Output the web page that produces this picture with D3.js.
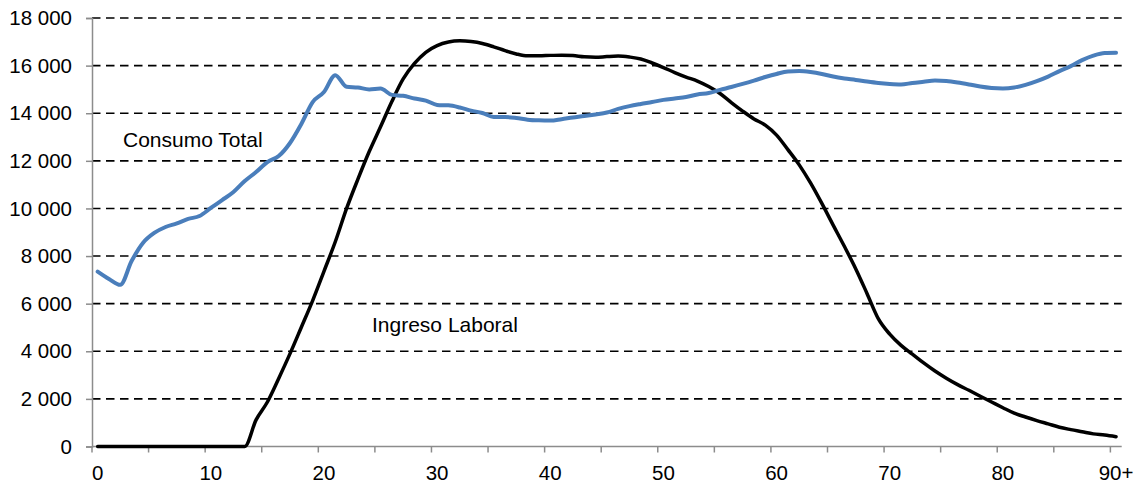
<!DOCTYPE html>
<html>
<head>
<meta charset="utf-8">
<script src="https://cdn.jsdelivr.net/npm/d3@7"></script>
<style>
  body { margin: 0; background: white; }
  text { font-family: Arial, "Liberation Sans", sans-serif; fill: #000; }
</style>
</head>
<body>
<svg id="chart" width="1139" height="485"></svg>
<script>
// Datos
const ages = d3.range(0, 91)

const consumoTotal = [
  7350, 7040, 6790, 7790, 8550, 8970, 9220, 9370, 9560, 9680,
  10020, 10350, 10690, 11150, 11530, 11950, 12200, 12750, 13550, 14470,
  14890, 15600, 15110, 15080, 15000, 15040, 14770, 14730, 14620, 14530,
  14350, 14330, 14240, 14110, 14010, 13840, 13840, 13800, 13730, 13700,
  13690, 13750, 13820, 13880, 13950, 14030, 14180, 14300, 14390, 14470,
  14560, 14620, 14680, 14790, 14850, 14980, 15100, 15230, 15370, 15520,
  15650, 15750, 15770, 15730, 15650, 15540, 15460, 15400, 15330, 15270,
  15230, 15210, 15270, 15320, 15370, 15350, 15290, 15210, 15120, 15060,
  15040, 15080, 15190, 15350, 15540, 15770, 15980, 16230, 16420, 16530,
  16540
]

const ingresoLaboral = [
  0, 0, 0, 0, 0, 0, 0, 0, 0, 0,
  0, 0, 0, 0, 1120, 1870, 2860, 3900, 5010, 6130,
  7360, 8600, 10000, 11230, 12390, 13430, 14490, 15440, 16090, 16560,
  16840, 16990, 17040, 17010, 16930, 16790, 16630, 16490, 16410, 16410,
  16430, 16440, 16420, 16370, 16350, 16380, 16400, 16360, 16280, 16110,
  15920, 15710, 15520, 15350, 15120, 14830, 14450, 14090, 13760, 13500,
  13080, 12470, 11830, 11070, 10210, 9300, 8400, 7460, 6420, 5360,
  4720, 4250, 3880, 3510, 3170, 2870, 2600, 2360, 2110, 1870,
  1630, 1400, 1240, 1090, 950, 810, 710, 620, 530, 480,
  410
]

const yTicks = [0, 2000, 4000, 6000, 8000, 10000, 12000, 14000, 16000, 18000]
const xTickAges = [0, 10, 20, 30, 40, 50, 60, 70, 80, 90]
const xTickLabels = ['0', '10', '20', '30', '40', '50', '60', '70', '80', '90+']

const svg = d3.select('#chart')

const plotLeft = 92
const plotRight = 1121.7
const plotTop = 18
const plotBottom = 446.5

const xScale = d3.scaleBand()
    .domain(ages)
    .range([plotLeft, plotRight])
    .padding(0)

const xCenter = d => xScale(d) + xScale.bandwidth() / 2

const yScale = d3.scaleLinear()
    .domain([0, 18000])
    .range([plotBottom, plotTop])

const fmt = n => d3.format(',')(n).replace(/,/g, ' ')

// Lineas de cuadricula (discontinuas)
svg.append('g')
    .selectAll('line')
    .data(yTicks.filter(d => d > 0))
    .enter().append('line')
        .attr('x1', plotLeft)
        .attr('x2', plotRight)
        .attr('y1', d => yScale(d))
        .attr('y2', d => yScale(d))
        .attr('stroke', '#000')
        .attr('stroke-width', 1.6)
        .attr('stroke-dasharray', '8.5,5.5')

// Eje Y
const yAxis = d3.axisLeft(yScale)
    .tickValues(yTicks)
    .tickSize(6)
    .tickPadding(14)
    .tickFormat(fmt)

const yAxisGroup = svg.append('g')
    .attr('transform', `translate(${plotLeft}, 0)`)
    .call(yAxis)

yAxisGroup.select('.domain').attr('stroke', '#8c8c8c').attr('stroke-width', 1.5)
yAxisGroup.selectAll('.tick line').attr('stroke', '#8c8c8c').attr('stroke-width', 1.5)
yAxisGroup.selectAll('.tick text')
    .attr('font-size', 20.5)
    .attr('font-family', 'Arial, "Liberation Sans", sans-serif')
    .attr('fill', '#000')

// Eje X: marcas cada 5 categorias en los limites
const tickAges = ages.filter(d => d % 5 === 0)
const xAxisGroup = svg.append('g')

xAxisGroup.append('line')
    .attr('x1', plotLeft)
    .attr('x2', plotRight)
    .attr('y1', plotBottom)
    .attr('y2', plotBottom)
    .attr('stroke', '#8c8c8c')
    .attr('stroke-width', 1.5)

xAxisGroup.selectAll('line.tick')
    .data(tickAges)
    .enter().append('line')
        .attr('class', 'tick')
        .attr('x1', d => xScale(d))
        .attr('x2', d => xScale(d))
        .attr('y1', plotBottom)
        .attr('y2', plotBottom + 6)
        .attr('stroke', '#8c8c8c')
        .attr('stroke-width', 1.5)

xAxisGroup.selectAll('text')
    .data(xTickAges)
    .enter().append('text')
        .attr('x', d => xCenter(d))
        .attr('y', plotBottom + 33)
        .attr('text-anchor', 'middle')
        .attr('font-size', 20.5)
        .text((d, i) => xTickLabels[i])

// Series
const line = data => d3.line()
    .x((d, i) => xCenter(ages[i]))
    .y(d => yScale(d))
    .curve(d3.curveMonotoneX)(data)

svg.append('path')
    .attr('d', line(ingresoLaboral))
    .attr('fill', 'none')
    .attr('stroke', '#000')
    .attr('stroke-width', 3.5)
    .attr('stroke-linejoin', 'round')
    .attr('stroke-linecap', 'round')

svg.append('path')
    .attr('d', line(consumoTotal))
    .attr('fill', 'none')
    .attr('stroke', '#4a7ebb')
    .attr('stroke-width', 4)
    .attr('stroke-linejoin', 'round')
    .attr('stroke-linecap', 'round')

// Etiquetas
svg.append('text')
    .attr('x', 123)
    .attr('y', 147)
    .attr('font-size', 21)
    .text('Consumo Total')

svg.append('text')
    .attr('x', 372)
    .attr('y', 331.5)
    .attr('font-size', 21)
    .text('Ingreso Laboral')
</script>
</body>
</html>
